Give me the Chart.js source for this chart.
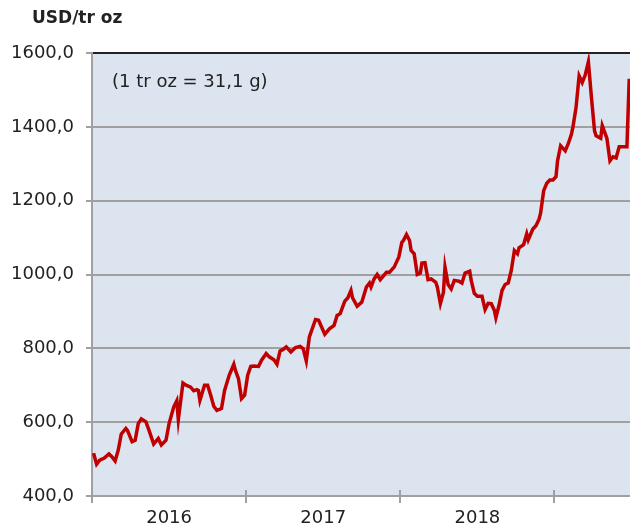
<!DOCTYPE html>
<html>
<head>
<meta charset="utf-8">
<script src="https://cdn.jsdelivr.net/npm/chart.js@4.4.1/dist/chart.umd.min.js"></script>
<style>
  html, body { margin: 0; padding: 0; background: #fff; }
  #goldChart { display: block; }
</style>
</head>
<body>
<canvas id="goldChart" width="630" height="530"></canvas>
<script>
// values (x = position in years, y = USD per troy ounce)
const years = [
  2016.01, 2016.03, 2016.05, 2016.08, 2016.11, 2016.13, 2016.15, 2016.17, 2016.19, 2016.22,
  2016.23, 2016.26, 2016.28, 2016.30, 2016.32, 2016.35, 2016.37, 2016.40, 2016.42, 2016.43,
  2016.45, 2016.48, 2016.50, 2016.53, 2016.55, 2016.56, 2016.59, 2016.61, 2016.64, 2016.66,
  2016.68, 2016.69, 2016.70, 2016.73, 2016.75, 2016.77, 2016.79, 2016.81, 2016.84, 2016.86,
  2016.89, 2016.92, 2016.93, 2016.95, 2016.97, 2016.99, 2017.01, 2017.03, 2017.05, 2017.08,
  2017.10, 2017.13, 2017.15, 2017.18, 2017.20, 2017.22, 2017.24, 2017.26, 2017.29, 2017.32,
  2017.35, 2017.37, 2017.39, 2017.41, 2017.45, 2017.47, 2017.51, 2017.54, 2017.57, 2017.59,
  2017.61, 2017.64, 2017.66, 2017.68, 2017.69, 2017.72, 2017.75, 2017.78, 2017.80, 2017.81,
  2017.83, 2017.85, 2017.87, 2017.91, 2017.93, 2017.96, 2017.99, 2018.01, 2018.02, 2018.04,
  2018.06, 2018.07, 2018.09, 2018.11, 2018.13, 2018.14, 2018.16, 2018.18, 2018.20, 2018.23,
  2018.24, 2018.26, 2018.28, 2018.29, 2018.31, 2018.33, 2018.35, 2018.38, 2018.40, 2018.42,
  2018.45, 2018.46, 2018.48, 2018.50, 2018.53, 2018.55, 2018.57, 2018.59, 2018.61, 2018.62,
  2018.64, 2018.66, 2018.68, 2018.70, 2018.72, 2018.74, 2018.76, 2018.77, 2018.80, 2018.82,
  2018.83, 2018.86, 2018.88, 2018.90, 2018.91, 2018.93, 2018.95, 2018.97, 2018.99, 2019.01,
  2019.02, 2019.04, 2019.07, 2019.09, 2019.11, 2019.12, 2019.14, 2019.16, 2019.18, 2019.20,
  2019.22, 2019.24, 2019.26, 2019.27, 2019.30, 2019.31, 2019.34, 2019.36, 2019.38, 2019.40,
  2019.42, 2019.47, 2019.485
];
const prices = [
  516, 486, 497, 503, 514, 506, 495, 524, 568, 583,
  578, 547, 551, 596, 609, 601, 578, 541, 551, 556,
  538, 551, 596, 641, 658, 607, 706, 700, 695, 685,
  688, 686, 659, 700, 700, 673, 643, 632, 637, 686,
  727, 757, 741, 718, 664, 673, 727, 751, 752, 751,
  768, 786, 777, 769, 757, 793, 797, 804, 790, 802,
  805, 799, 766, 831, 878, 876, 838, 853, 862, 889,
  894, 928, 937, 957, 937, 914, 925, 966, 977, 966,
  988, 1000, 986, 1006, 1006, 1020, 1047, 1087, 1092, 1108,
  1092, 1065, 1056, 1000, 1004, 1031, 1032, 986, 988, 979,
  966, 921, 952, 1020, 973, 961, 984, 982, 977, 1004,
  1009, 984, 949, 941, 941, 905, 922, 921, 903, 883,
  916, 957, 973, 977, 1011, 1065, 1056, 1072, 1081, 1110,
  1094, 1123, 1132, 1150, 1166, 1227, 1247, 1256, 1256, 1265,
  1308, 1349, 1335, 1355, 1380, 1400, 1452, 1538, 1520, 1541,
  1576, 1479, 1389, 1376, 1369, 1403, 1369, 1308, 1319, 1316,
  1346, 1346, 1530
];
const yearTicks = [2016, 2017, 2018, 2019];
const yearLabels = ['2016', '2017', '2018'];
const yTicks = [400, 600, 800, 1000, 1200, 1400, 1600];

const unitTitle = 'USD/tr oz';
const noteText = '(1 tr oz = 31,1 g)';

const gridGray = '#a0a0a0';
const textColor = '#222222';

function isYearTick(v) {
    return Math.abs(v - Math.round(v)) < 1e-6;
}

const extras = {
    id: 'extras',
    beforeDraw(chart) {
        const { ctx, chartArea: a } = chart;
        ctx.save();
        ctx.fillStyle = '#ffffff';
        ctx.fillRect(0, 0, chart.width, chart.height);
        ctx.fillStyle = '#dce4f0';
        ctx.fillRect(a.left, a.top, a.right - a.left, a.bottom - a.top);
        ctx.restore();
    },
    afterDraw(chart) {
        const { ctx, chartArea: a } = chart;
        const xs = chart.scales.x;
        ctx.save();
        // year ticks cross the bottom axis
        ctx.strokeStyle = gridGray;
        ctx.lineWidth = 2;
        yearTicks.forEach(v => {
            const px = Math.round(xs.getPixelForValue(v));
            ctx.beginPath();
            ctx.moveTo(px, a.bottom - 6);
            ctx.lineTo(px, a.bottom);
            ctx.stroke();
        });
        ctx.fillStyle = textColor;
        ctx.textBaseline = 'middle';
        ctx.textAlign = 'left';
        ctx.font = 'bold 17px "DejaVu Sans"';
        ctx.fillText(unitTitle, 32, 19);
        ctx.font = '18px "DejaVu Sans"';
        ctx.fillText(noteText, a.left + 20, a.top + 29);
        ctx.restore();
    }
};

new Chart(document.getElementById('goldChart'), {
    type: 'line',
    data: {
        datasets: [{
            label: 'Gold',
            data: years.map((x, i) => ({ x: x, y: prices[i] })),
            borderColor: '#c00000',
            borderWidth: 3.5,
            pointRadius: 0,
            tension: 0,
            fill: false
        }]
    },
    options: {
        responsive: false,
        animation: false,
        devicePixelRatio: 1,
        layout: { padding: { left: 10, right: 0, top: 53, bottom: 0 } },
        plugins: {
            legend: { display: false },
            tooltip: { enabled: false }
        },
        scales: {
            x: {
                type: 'linear',
                min: 2016,
                max: 2019.49,
                afterBuildTicks(scale) {
                    const t = [];
                    yearTicks.forEach((v, i) => {
                        t.push({ value: v });
                        if (i < yearLabels.length) t.push({ value: v + 0.5 });
                    });
                    scale.ticks = t;
                },
                afterFit(scale) {
                    scale.height = 34;
                },
                ticks: {
                    autoSkip: false,
                    maxRotation: 0,
                    padding: 5,
                    color: textColor,
                    font: { family: 'DejaVu Sans', size: 18 },
                    callback(v) {
                        if (isYearTick(v)) return '';
                        return yearLabels[Math.floor(v) - 2016] || '';
                    }
                },
                grid: {
                    display: true,
                    drawOnChartArea: false,
                    drawTicks: true,
                    tickLength: 7,
                    lineWidth: 2,
                    color: ctx => (ctx.tick && isYearTick(ctx.tick.value)) ? gridGray : 'rgba(0,0,0,0)'
                },
                border: { display: true, color: gridGray, width: 2 }
            },
            y: {
                min: 400,
                max: 1600,
                afterBuildTicks(scale) {
                    scale.ticks = yTicks.map(v => ({ value: v }));
                },
                afterFit(scale) {
                    scale.width = 82;
                },
                ticks: {
                    padding: 12,
                    color: textColor,
                    font: { family: 'DejaVu Sans', size: 18 },
                    callback: v => v.toFixed(1).replace('.', ',')
                },
                grid: {
                    lineWidth: 2,
                    tickLength: 6,
                    tickColor: gridGray,
                    color: ctx => (ctx.tick && ctx.tick.value === 1600) ? '#222222' : gridGray
                },
                border: { display: true, color: gridGray, width: 2 }
            }
        }
    },
    plugins: [extras]
});
</script>
</body>
</html>
